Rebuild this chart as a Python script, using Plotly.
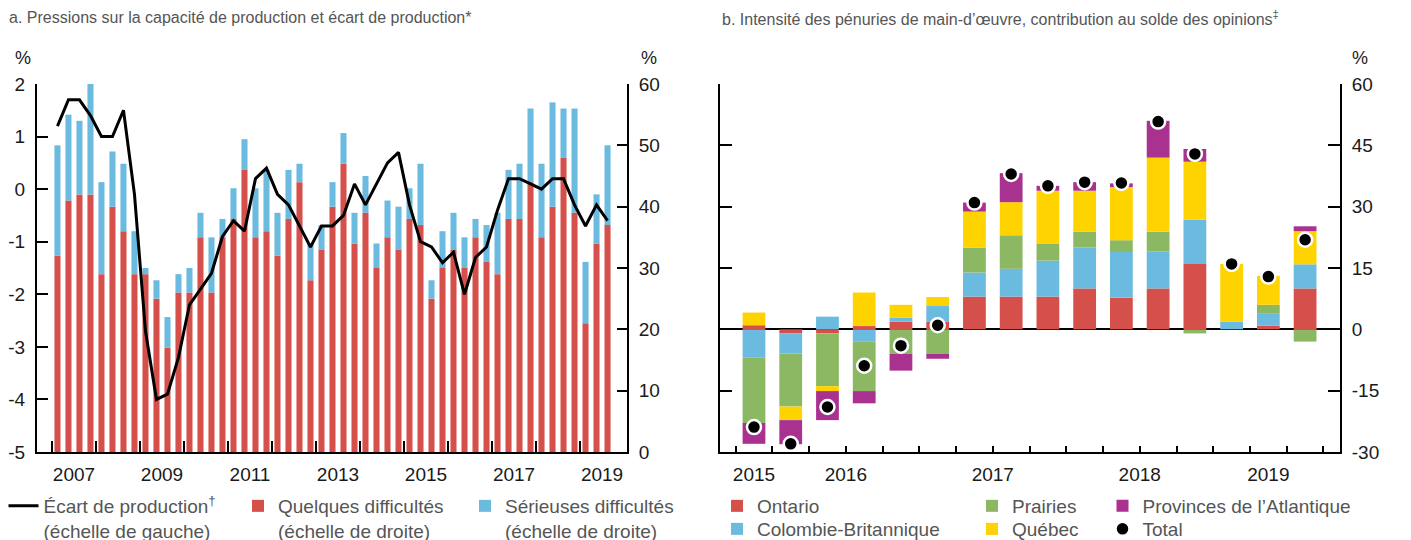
import plotly.graph_objects as go

# ---------------- Panel a data (quarterly, 2007T1 - 2019T3) ----------------
trimestres_a = [f"{a}T{t}" for a in range(2007, 2020) for t in range(1, 5)][:51]
quelques_difficultes = [32, 41, 42, 42, 29, 40, 36, 29, 29, 25, 17, 26, 26, 35, 26, 35,
                        38, 46, 35, 36, 32, 38, 44, 28, 33, 40, 47, 34, 39, 30, 35, 33,
                        38, 37, 25, 30, 33, 30, 35, 31, 29, 38, 38, 44, 35, 40, 48, 39,
                        21, 34, 37]
serieuses_difficultes = [18, 14, 12, 18, 15, 9, 11, 7, 1, 3, 5, 3, 4, 4, 9, 3,
                         5, 5, 8, 10, 7, 8, 3, 6, 4, 4, 5, 5, 6, 4, 6, 7,
                         5, 10, 3, 6, 6, 5, 3, 6, 10, 8, 9, 12, 12, 17, 8, 17,
                         10, 8, 13]
ecart_production = [1.2, 1.7, 1.7, 1.4, 1.0, 1.0, 1.5, -0.1, -2.7, -4.0, -3.9, -3.2,
                    -2.2, -1.9, -1.6, -0.9, -0.6, -0.8, 0.2, 0.4, -0.1, -0.3, -0.7, -1.1,
                    -0.7, -0.7, -0.5, 0.1, -0.3, 0.1, 0.5, 0.7, -0.3, -1.0, -1.1, -1.4,
                    -1.2, -2.0, -1.3, -1.1, -0.4, 0.2, 0.2, 0.1, 0.0, 0.2, 0.2, -0.3,
                    -0.7, -0.3, -0.6]
annees_a = ["2007", "2009", "2011", "2013", "2015", "2017", "2019"]
ticks_gauche_a = [-5, -4, -3, -2, -1, 0, 1, 2]
ticks_gauche_a_txt = ["-5", "-4", "-3", "-2", "-1", "0", "1", "2"]
ticks_droite_a = [0, 10, 20, 30, 40, 50, 60]

# ---------------- Panel b data (quarterly, 2015T4 - 2019T3) ----------------
trimestres_b = ["2015T4", "2016T1", "2016T2", "2016T3", "2016T4", "2017T1", "2017T2",
                "2017T3", "2017T4", "2018T1", "2018T2", "2018T3", "2018T4", "2019T1",
                "2019T2", "2019T3"]
ontario = [1.0, -1.0, -1.0, 0.8, 1.9, 1.9, 8.0, 8.0, 8.0, 10.0, 7.7, 10.0, 16.0, 0.0, 0.9, 10.0]
colombie_britannique = [-6.8, -4.9, 3.1, -3.0, 1.0, 3.8, 5.9, 6.8, 8.8, 10.0, 11.2, 9.0, 10.8, 1.9, 2.9, 5.9]
prairies = [-16.1, -13.0, -12.9, -12.1, -6.0, -6.0, 6.1, 8.2, 4.2, 3.9, 2.9, 4.9, -1.0, 0.0, 2.2, -3.0]
quebec = [3.1, -3.3, -1.2, 8.2, 3.1, 2.2, 8.8, 8.1, 12.9, 10.0, 13.0, 18.1, 14.2, 14.1, 7.1, 8.1]
atlantique = [-5.1, -5.9, -7.1, -3.0, -4.1, -1.2, 2.2, 7.1, 1.2, 2.1, 0.9, 9.0, 3.1, 0.0, 0.0, 1.2]
total = [-23.9, -28.0, -19.0, -8.9, -4.0, 1.0, 31.0, 38.0, 35.1, 36.0, 35.8, 50.8, 42.9, 16.0, 12.9, 21.9]
annees_b = ["2015", "2016", "2017", "2018", "2019"]
ticks_b = [-30, -15, 0, 15, 30, 45, 60]
ticks_b_txt = ["-30", "-15", "0", "15", "30", "45", "60"]

# ---------------- styles ----------------
ROUGE = "#D5504B"
BLEU = "#6BBADF"
VERT = "#8DB863"
JAUNE = "#FFD300"
VIOLET = "#A93290"
FONT = "Liberation Sans, Arial, sans-serif"
TXT = "#1a1a1a"
GRIS = "#555555"
W, H = 1411, 540
OFF = 8  # page body margin in the browser


def px_x(p):
    return (p - OFF) / W


def px_y(p):
    return 1 - (p - OFF) / H


xa = list(range(len(trimestres_a)))
xb = list(range(len(trimestres_b)))

# year label positions (centre of each year) and year-boundary ticks
lab_a = [1.5 + 8 * i for i in range(len(annees_a))]
bounds_a = [-0.5 + 4 * i for i in range(13)]
lab_b = [0, 2.5, 6.5, 10.5, 14]
bounds_b_year = [0.5, 4.5, 8.5, 12.5]
bounds_b_q = [i - 0.5 for i in range(17)]

fig = go.Figure()

# Panel a bars (base y axis = right scale)
fig.add_trace(go.Bar(x=xa, y=quelques_difficultes, marker_color=ROUGE, width=0.55,
                     marker_line_width=0, xaxis="x", yaxis="y", legend="legend2",
                     name="Quelques difficultés<br>(échelle de droite)"))
fig.add_trace(go.Bar(x=xa, y=serieuses_difficultes, marker_color=BLEU, width=0.55,
                     marker_line_width=0, xaxis="x", yaxis="y", legend="legend3",
                     name="Sérieuses difficultés<br>(échelle de droite)"))
# Panel a line (overlay y axis = left scale)
fig.add_trace(go.Scatter(x=xa, y=ecart_production, mode="lines",
                         line=dict(color="black", width=3), xaxis="x", yaxis="y2",
                         legend="legend",
                         name="Écart de production<sup>†</sup><br>(échelle de gauche)"))

# Panel b stacked bars
for vals, col, nm, lg in [(ontario, ROUGE, "Ontario", "legend4"),
                          (colombie_britannique, BLEU, "Colombie-Britannique", "legend5"),
                          (prairies, VERT, "Prairies", "legend6"),
                          (quebec, JAUNE, "Québec", "legend7"),
                          (atlantique, VIOLET, "Provinces de l’Atlantique", "legend8")]:
    fig.add_trace(go.Bar(x=xb, y=vals, marker_color=col, width=0.62, marker_line_width=0,
                         xaxis="x2", yaxis="y3", name=nm, legend=lg))
fig.add_trace(go.Scatter(x=xb, y=total, mode="markers", name="Total",
                         marker=dict(color="black", size=14, line=dict(color="white", width=2.5)),
                         xaxis="x2", yaxis="y3", legend="legend9"))

axis_common = dict(showgrid=False, showline=True, linecolor="black", linewidth=2,
                   tickcolor="black", tickwidth=2, tickfont=dict(size=19, color=TXT, family=FONT),
                   fixedrange=True, automargin=False)
ydom = [px_y(452), px_y(84)]

fig.update_layout(
    width=W, height=H, margin=dict(l=0, r=0, t=0, b=0, autoexpand=False),
    paper_bgcolor="white", plot_bgcolor="white",
    barmode="relative", font=dict(family=FONT, color=TXT),
    showlegend=True,
    xaxis=dict(domain=[px_x(37), px_x(627)], anchor="y", range=[-1.86, 51.77],
               tickmode="array", tickvals=lab_a, ticktext=annees_a, ticks="",
               ticklabelstandoff=4, zeroline=False,
               minor=dict(tickmode="array", tickvals=bounds_a, ticks="inside", ticklen=11,
                          tickwidth=2, tickcolor="black"),
               **axis_common),
    yaxis=dict(domain=ydom, anchor="x", side="right", range=[0, 60], tickmode="array",
               tickvals=ticks_droite_a, ticks="inside", ticklen=10, zeroline=False,
               ticklabelstandoff=6, **axis_common),
    yaxis2=dict(overlaying="y", anchor="x", side="left", range=[-5, 2], tickmode="array",
                tickvals=ticks_gauche_a, ticktext=ticks_gauche_a_txt, ticks="inside",
                ticklen=11, zeroline=False, ticklabelstandoff=6, **axis_common),
    xaxis2=dict(domain=[px_x(720), px_x(1340)], anchor="y3", range=[-0.925, 15.95],
                tickmode="array", tickvals=lab_b, ticktext=annees_b, ticks="",
                ticklabelstandoff=4, zeroline=False,
                minor=dict(tickmode="array", tickvals=bounds_b_q, ticks="inside", ticklen=6,
                           tickwidth=2, tickcolor="black"),
                **axis_common),
    xaxis3=dict(overlaying="x2", anchor="y3", range=[-0.925, 15.95], tickmode="array",
                tickvals=bounds_b_year, showticklabels=False, ticks="inside",
                ticklen=12, tickwidth=2, tickcolor="black", showline=False, showgrid=False,
                zeroline=False, fixedrange=True, automargin=False),
    yaxis3=dict(domain=ydom, anchor="x2", side="right", range=[-30, 60], tickmode="array",
                tickvals=ticks_b, ticktext=ticks_b_txt, ticks="inside", ticklen=12,
                mirror="ticks", zeroline=True, zerolinecolor="black", zerolinewidth=2,
                ticklabelstandoff=6, **axis_common),
)

leg_font = dict(size=19, color=GRIS, family=FONT)


def leg(xpx, ypx):
    return dict(x=px_x(xpx), y=px_y(ypx), xanchor="left", yanchor="top",
                orientation="v", bgcolor="rgba(0,0,0,0)", borderwidth=0,
                font=leg_font, valign="top", itemclick=False, itemdoubleclick=False)


fig.update_layout(
    legend=leg(3.5, 487), legend2=leg(238, 487), legend3=leg(465, 487),
    legend4=leg(717, 487), legend5=leg(717, 510),
    legend6=leg(972, 487), legend7=leg(972, 510),
    legend8=leg(1102.5, 487), legend9=leg(1102.5, 510),
)

ann = []
ann.append(dict(text="a. Pressions sur la capacité de production et écart de production*",
                x=px_x(7), y=px_y(18), xanchor="left", yanchor="middle",
                font=dict(size=16, color=GRIS, family=FONT)))
ann.append(dict(text="b. Intensité des pénuries de main-d’œuvre, contribution au solde des opinions<sup>‡</sup>",
                x=px_x(720), y=px_y(18), xanchor="left", yanchor="middle",
                font=dict(size=16, color=GRIS, family=FONT)))
for xp in (23, 649, 1360):
    ann.append(dict(text="%", x=px_x(xp), y=px_y(58), xanchor="center", yanchor="middle",
                    font=dict(size=18, color=TXT, family=FONT)))
for a in ann:
    a.update(xref="paper", yref="paper", showarrow=False)
fig.update_layout(annotations=ann)

fig.write_html("out.html")
